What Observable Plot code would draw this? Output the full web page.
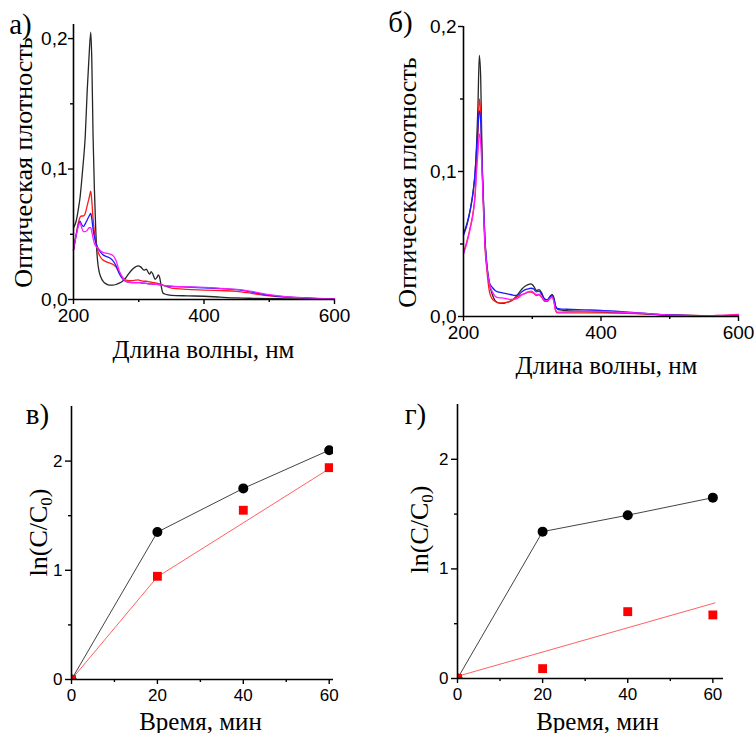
<!DOCTYPE html>
<html><head><meta charset="utf-8">
<script src="https://cdn.jsdelivr.net/npm/d3@7"></script>
<script src="https://cdn.jsdelivr.net/npm/@observablehq/plot@0.6"></script>
<style>
body{margin:0;background:#fff;}
#c{position:relative;width:755px;height:733px;overflow:hidden;background:#fff;}
#c svg{position:absolute;}
</style></head><body><div id="c"></div>
<script>
// ---------- DATA ----------
// Panel а) spectra
const wlA = [200,204,208,210,212,215,218,221,224,226.5,228,230,232,234,236,238,242,246,250,255,260,265,270,275,280,285,290,295,299,303,308,311.5,316.5,319,322,325,328,330,332,334.5,337,340,345,350,375,400,425,450,475,500,525,550,575,600];
const aBlack = [0.055,0.060,0.071,0.078,0.088,0.105,0.125,0.160,0.188,0.205,0.185,0.125,0.085,0.055,0.035,0.025,0.017,0.0135,0.012,0.011,0.011,0.0115,0.0125,0.014,0.0165,0.020,0.023,0.025,0.0258,0.025,0.0225,0.0232,0.0194,0.0214,0.019,0.0155,0.017,0.0188,0.017,0.010,0.005,0.0042,0.0035,0.0032,0.0028,0.0025,0.0018,0.0012,0.0009,0.0007,0.0005,0.0004,0.0003,0.0003];
const aRed = [0.038,0.050,0.060,0.063,0.064,0.064,0.066,0.072,0.078,0.083,0.076,0.062,0.052,0.045,0.040,0.036,0.032,0.030,0.029,0.028,0.027,0.025,0.021,0.017,0.0148,0.0145,0.0145,0.0148,0.015,0.0145,0.014,0.014,0.0135,0.0133,0.013,0.0128,0.0125,0.0122,0.012,0.0115,0.011,0.0105,0.0095,0.0088,0.0078,0.0072,0.0068,0.0063,0.0045,0.0028,0.0018,0.0012,0.0006,0.0004];
const aBlue = [0.038,0.049,0.058,0.060,0.058,0.056,0.058,0.061,0.064,0.066,0.062,0.054,0.048,0.044,0.041,0.039,0.036,0.034,0.033,0.032,0.030,0.026,0.020,0.016,0.0138,0.0133,0.013,0.013,0.013,0.0128,0.0125,0.0123,0.012,0.012,0.0118,0.0117,0.0116,0.0115,0.0113,0.011,0.0108,0.0106,0.0103,0.010,0.0095,0.009,0.0083,0.0075,0.0055,0.0032,0.002,0.0013,0.0007,0.0005];
const aMagenta = [0.038,0.049,0.057,0.059,0.056,0.052,0.052,0.053,0.055,0.055,0.052,0.047,0.043,0.041,0.040,0.039,0.037,0.036,0.0355,0.035,0.034,0.030,0.022,0.017,0.014,0.0133,0.013,0.013,0.013,0.0128,0.0125,0.0123,0.012,0.012,0.0118,0.0117,0.0116,0.0115,0.0113,0.011,0.0108,0.0107,0.0104,0.0102,0.0097,0.0093,0.0086,0.0078,0.006,0.0037,0.0022,0.0014,0.0008,0.0005];

// Panel б) spectra
const wlB = [200,205,210,214,217,219,221,223,225,227,229,231,234,238,242,246,250,255,260,265,270,275,280,285,290,294,298,302,306,310,314,318,322,326,329,332,334,337,340,350,375,400,425,450,475,500,525,550,575,600];
const bBlack = [0.057,0.064,0.074,0.086,0.100,0.118,0.145,0.180,0.165,0.110,0.080,0.055,0.035,0.022,0.015,0.011,0.0095,0.009,0.0093,0.010,0.011,0.013,0.016,0.019,0.021,0.022,0.0225,0.021,0.018,0.0185,0.016,0.012,0.0115,0.014,0.015,0.012,0.007,0.005,0.0045,0.004,0.0035,0.003,0.0027,0.0022,0.0016,0.001,0.0008,0.0006,0.0006,0.0007];
const bRed = [0.044,0.052,0.062,0.072,0.085,0.105,0.125,0.150,0.140,0.105,0.075,0.050,0.032,0.0165,0.012,0.0105,0.0095,0.0093,0.0095,0.010,0.011,0.0125,0.014,0.015,0.016,0.0168,0.0168,0.016,0.0145,0.015,0.013,0.0105,0.0105,0.0125,0.0135,0.009,0.004,0.0025,0.0025,0.0025,0.0025,0.0025,0.0023,0.002,0.0015,0.001,0.0007,0.0006,0.0008,0.0015];
const bBlue = [0.056,0.063,0.074,0.086,0.100,0.115,0.130,0.142,0.135,0.105,0.080,0.055,0.036,0.023,0.020,0.018,0.017,0.0165,0.016,0.0155,0.015,0.0145,0.015,0.017,0.0185,0.019,0.0195,0.019,0.017,0.0175,0.015,0.012,0.0115,0.0135,0.0145,0.011,0.007,0.0055,0.0053,0.005,0.0046,0.0042,0.0035,0.0027,0.0017,0.0011,0.0007,0.0005,0.0005,0.0008];
const bMagenta = [0.043,0.051,0.061,0.071,0.084,0.100,0.113,0.126,0.120,0.100,0.075,0.052,0.034,0.022,0.017,0.014,0.013,0.0128,0.0125,0.012,0.0118,0.012,0.013,0.015,0.016,0.017,0.0175,0.0165,0.015,0.0155,0.0135,0.011,0.011,0.0125,0.0135,0.009,0.0045,0.003,0.003,0.0032,0.0035,0.0035,0.003,0.0025,0.0018,0.001,0.0007,0.0005,0.0008,0.0012];

// Panels в) and г) kinetics
const timeMin = [0, 20, 40, 60];
const vBlack = [0, 1.35, 1.75, 2.10];
const vRed = [0, 0.945, 1.55, 1.94];
const vRedFitT = [0, 20, 60];
const vRedFitY = [0, 0.94, 1.93];
const gBlack = [0, 1.34, 1.49, 1.65];
const gRed = [0, 0.09, 0.61, 0.58];
const gRedFitT = [0, 60.5];
const gRedFitY = [0.02, 0.69];

// Tick values
const specXTicks = [200, 400, 600];
const specXMinor = [300, 500];
const specYTicks = [0, 0.1, 0.2];
const specYMinor = [0.05, 0.15];
const kinXTicks = [0, 20, 40, 60];
const kinXMinor = [10, 30, 50];
const kinYTicks = [0, 1, 2];
const kinYMinor = [0.5, 1.5];

// ---------- STYLE ----------
const SERIF = "Liberation Serif, DejaVu Serif, serif";
const SANS = "Liberation Sans, Arial, sans-serif";
const C_BLACK = "#262626", C_RED = "#ff1a1a", C_BLUE = "#1a1aff", C_MAG = "#ff1aff";

const zip = (xs, ys) => xs.map((x, i) => ({x, y: ys[i]}));
const commaFmt = d => d.toFixed(1).replace(".", ",");

function panel(o) {
  const {left, top, width, height, ml, mr, mt, mb, xd, yd} = o;
  const px2x = px => xd[0] + (px - ml) / (width - ml - mr) * (xd[1] - xd[0]);
  const py2y = py => yd[1] - (py - mt) / (height - mt - mb) * (yd[1] - yd[0]);
  const texts = o.texts.map(t => Plot.text([t], {
    x: px2x(t.cx - left), y: py2y(t.cy - top), text: d => d.s,
    fontSize: t.fs, textAnchor: "middle", lineAnchor: "middle",
    rotate: t.rot || 0, fill: "#000"
  }));
  const svg = Plot.plot({
    width, height, marginLeft: ml, marginRight: mr, marginTop: mt, marginBottom: mb,
    x: {domain: xd}, y: {domain: yd},
    style: {background: "transparent", overflow: "visible", color: "#000"},
    marks: [
      ...o.marks,
      Plot.axisX(o.xTicks, {tickSize: 5, tickPadding: 4, fontSize: o.tfs, fontFamily: SANS, strokeWidth: 1.4, label: null, tickFormat: o.xFmt || (d => String(d))}),
      Plot.axisX(o.xMinor, {tickSize: 3, strokeWidth: 1.4, label: null, tickFormat: () => ""}),
      Plot.axisY(o.yTicks, {tickSize: o.yTick, tickPadding: o.yPad, fontSize: o.tfs, fontFamily: SANS, strokeWidth: 1.4, label: null, tickFormat: o.yFmt || (d => String(d))}),
      Plot.axisY(o.yMinor, {tickSize: 3, strokeWidth: 1.4, label: null, tickFormat: () => ""}),
      Plot.ruleY([yd[0]], {stroke: "#000", strokeWidth: 1.6}),
      Plot.ruleX([xd[0]], {stroke: "#000", strokeWidth: 1.6}),
      ...texts
    ]
  });
  svg.style.left = left + "px";
  svg.style.top = top + "px";
  svg.querySelectorAll("g[aria-label='text'] text").forEach(el => {
    el.style.fontFamily = SERIF;
    el.setAttribute("font-family", SERIF);
  });
  // subscript for ln(C/C0)
  svg.querySelectorAll("text").forEach(el => {
    if (el.textContent === "ln(C/C0)") {
      el.textContent = "";
      const ns = "http://www.w3.org/2000/svg";
      const a = document.createElementNS(ns, "tspan"); a.textContent = "ln(C/C";
      const b = document.createElementNS(ns, "tspan"); b.textContent = "0";
      b.setAttribute("font-size", "17"); b.setAttribute("dy", "5");
      const c = document.createElementNS(ns, "tspan"); c.textContent = ")";
      c.setAttribute("dy", "-5");
      el.append(a, b, c);
    }
  });
  document.getElementById("c").appendChild(svg);
}

function specMarks(wl, k, r, b, m) {
  const opt = {x: "x", y: "y", strokeWidth: 1.3, curve: "monotone-x"};
  return [
    Plot.line(zip(wl, k), {...opt, stroke: C_BLACK}),
    Plot.line(zip(wl, r), {...opt, stroke: C_RED}),
    Plot.line(zip(wl, b), {...opt, stroke: C_BLUE}),
    Plot.line(zip(wl, m), {...opt, stroke: C_MAG})
  ];
}

// а)
panel({
  left: 0, top: 0, width: 378, height: 370, ml: 73, mr: 44, mt: 24, mb: 71,
  xd: [200, 600], yd: [0, 0.2108], tfs: 19, yTick: 5, yPad: 1,
  xTicks: specXTicks, xMinor: specXMinor, yTicks: specYTicks, yMinor: specYMinor, yFmt: commaFmt,
  marks: specMarks(wlA, aBlack, aRed, aBlue, aMagenta),
  texts: [
    {s: "а)", cx: 20, cy: 24, fs: 29},
    {s: "Оптическая плотность", cx: 23, cy: 162, fs: 26, rot: -90},
    {s: "Длина волны, нм", cx: 203, cy: 349, fs: 25}
  ]
});

// б)
panel({
  left: 378, top: 0, width: 377, height: 370, ml: 85, mr: 17, mt: 26, mb: 54,
  xd: [200, 600], yd: [0, 0.2], tfs: 19, yTick: 5, yPad: 2,
  xTicks: specXTicks, xMinor: specXMinor, yTicks: specYTicks, yMinor: specYMinor, yFmt: commaFmt,
  marks: specMarks(wlB, bBlack, bRed, bBlue, bMagenta),
  texts: [
    {s: "б)", cx: 400, cy: 22, fs: 29},
    {s: "Оптическая плотность", cx: 407, cy: 182, fs: 26, rot: -90},
    {s: "Длина волны, нм", cx: 606, cy: 365, fs: 25}
  ]
});

function kinMarks(t, blk, red, fitT, fitY) {
  return [
    Plot.line(zip(t, blk), {x: "x", y: "y", stroke: "#444", strokeWidth: 1}),
    Plot.line(zip(fitT, fitY), {x: "x", y: "y", stroke: "#ff6060", strokeWidth: 1}),
    Plot.dot(zip(t, blk), {x: "x", y: "y", r: 5, fill: "#000", clip: true}),
    Plot.dot(zip(t, red), {x: "x", y: "y", r: 5, symbol: "square", fill: "#ff0000", clip: true})
  ];
}

// в)
panel({
  left: 0, top: 370, width: 378, height: 363, ml: 71, mr: 45, mt: 36, mb: 54,
  xd: [0, 61], yd: [0, 2.5], tfs: 17, yTick: 6, yPad: 3,
  xTicks: kinXTicks, xMinor: kinXMinor, yTicks: kinYTicks, yMinor: kinYMinor,
  marks: kinMarks(timeMin, vBlack, vRed, vRedFitT, vRedFitY),
  texts: [
    {s: "в)", cx: 37, cy: 414, fs: 29},
    {s: "ln(C/C0)", cx: 38, cy: 532, fs: 26, rot: -90},
    {s: "Время, мин", cx: 200, cy: 721, fs: 25}
  ]
});

// г)
panel({
  left: 378, top: 370, width: 377, height: 363, ml: 79, mr: 32, mt: 34, mb: 55,
  xd: [0, 62.5], yd: [0, 2.5], tfs: 17, yTick: 6, yPad: 3,
  xTicks: kinXTicks, xMinor: kinXMinor, yTicks: kinYTicks, yMinor: kinYMinor,
  marks: kinMarks(timeMin, gBlack, gRed, gRedFitT, gRedFitY),
  texts: [
    {s: "г)", cx: 415, cy: 414, fs: 29},
    {s: "ln(C/C0)", cx: 419, cy: 529, fs: 26, rot: -90},
    {s: "Время, мин", cx: 597, cy: 721, fs: 25}
  ]
});
</script></body></html>
